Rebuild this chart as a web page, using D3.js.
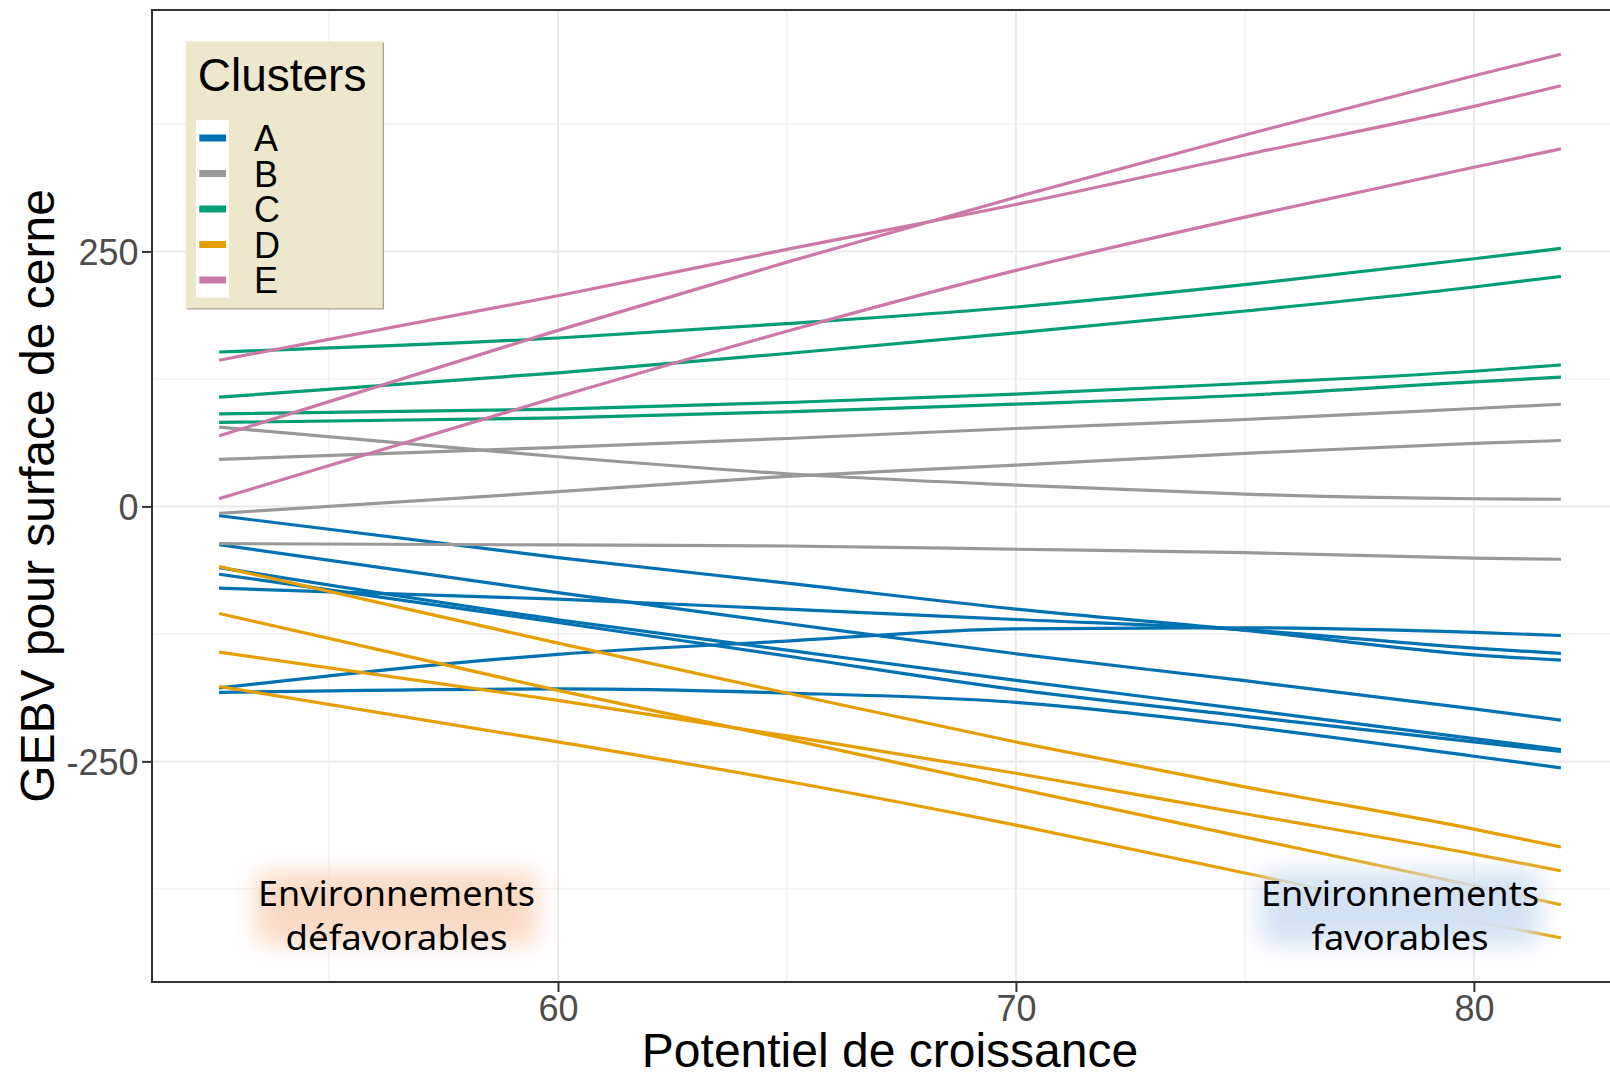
<!DOCTYPE html>
<html>
<head>
<meta charset="utf-8">
<script src="https://cdn.jsdelivr.net/npm/d3@7"></script>
<style>
  html, body { margin: 0; padding: 0; background: #ffffff; overflow: hidden; }
  svg { display: block; }
</style>
</head>
<body>
<svg id="chart" width="1610" height="1072"></svg>
<script>
// ---------------- DATA ----------------
const xPoints = [52.6, 60, 65, 70, 75, 80, 81.9];

const clusterNames = ["A", "B", "C", "D", "E"];
const clusterColors = ["#0072B2", "#999999", "#009E73", "#E69F00", "#CC79A7"];

const clusterA = [
  [-9.1, -50.2, -75.3, -100.7, -121.5, -145.5, -150.7],
  [-37.5, -84.5, -114.8, -144.5, -170.9, -198.6, -209.5],
  [-60, -111.1, -140.9, -170.6, -199, -227.7, -238.4],
  [-66.5, -113.8, -146.7, -179.7, -205.8, -230.9, -240.2],
  [-80.2, -90.9, -100.8, -110.9, -121, -139, -144.1],
  [-178, -145, -132, -120, -119, -123.5, -126.6],
  [-182.3, -179, -183, -192.1, -215.6, -245, -256.3]
];
const clusterB = [
  [77.7, 48.7, 32, 20.9, 12.1, 7.5, 7],
  [46.1, 57.8, 66.6, 76.4, 85.2, 96, 100.2],
  [-6.8, 14.4, 29.5, 40.5, 52, 61.8, 64.6],
  [-36.5, -37.8, -38.8, -42, -45.3, -50.8, -51.8]
];
const clusterC = [
  [151.4, 165.1, 179.2, 195.5, 217.4, 242.8, 253],
  [107.1, 130.9, 149.9, 170.1, 191.6, 215.1, 225.5],
  [90.8, 95.3, 101.9, 110, 120.5, 132.5, 138.7],
  [82.3, 86.8, 92.7, 100.2, 109, 122.1, 126.7]
];
const clusterD = [
  [-59, -134, -183, -231, -275, -316.4, -333.9],
  [-105, -180.4, -228, -276.4, -324.3, -371.9, -390.6],
  [-142.8, -190.2, -225, -261.6, -301.4, -340.9, -357.3],
  [-176.5, -230.9, -269.5, -312.5, -359.5, -406.5, -423]
];
const clusterE = [
  [143.3, 206.5, 252, 296, 344.6, 392.2, 412.4],
  [69.2, 172.6, 239.5, 303.2, 364.2, 422.3, 443.4],
  [7.6, 107.4, 171.7, 231.4, 283.6, 332.5, 350.5]
];

const xTicks = [60, 70, 80];
const xMinorTicks = [55, 65, 75, 85];
const yTicks = [-250, 0, 250];
const yMinorTicks = [-375, -125, 125, 375];
const xTitle = "Potentiel de croissance";
const yTitle = "GEBV pour surface de cerne";
const legendTitle = "Clusters";
const annotLeft = ["Environnements", "défavorables"];
const annotRight = ["Environnements", "favorables"];

// ---------------- LAYOUT ----------------
const panel = { left: 152, top: 10, bottom: 982 };
const allSeries = [clusterA, clusterB, clusterC, clusterD, clusterE];

// ggplot-like 5% expansion
const xExt = d3.extent(xPoints);
const xPad = (xExt[1] - xExt[0]) * 0.05;
const allY = allSeries.flat(2);
const yExt = d3.extent(allY);
const yPad = (yExt[1] - yExt[0]) * 0.05;

const xPanelWidth = 1476;
const x = d3.scaleLinear().domain([xExt[0] - xPad, xExt[1] + xPad]).range([panel.left, panel.left + xPanelWidth]);
const y = d3.scaleLinear().domain([yExt[0] - yPad, yExt[1] + yPad]).range([panel.bottom, panel.top]);

const svg = d3.select("#chart");
const defs = svg.append("defs");
const blur = defs.append("filter").attr("id", "glow").attr("x", "-30%").attr("y", "-60%").attr("width", "160%").attr("height", "220%");
blur.append("feGaussianBlur").attr("stdDeviation", 12);

svg.append("rect").attr("width", 1610).attr("height", 1072).attr("fill", "#ffffff");

const plot = svg.append("g");

// grid
plot.selectAll(".xminor").data(xMinorTicks).enter().append("line")
  .attr("x1", d => x(d)).attr("x2", d => x(d)).attr("y1", panel.top).attr("y2", panel.bottom)
  .attr("stroke", "#f0f0f0").attr("stroke-width", 1.3);
plot.selectAll(".yminor").data(yMinorTicks).enter().append("line")
  .attr("x1", panel.left).attr("x2", panel.left + xPanelWidth).attr("y1", d => y(d)).attr("y2", d => y(d))
  .attr("stroke", "#f0f0f0").attr("stroke-width", 1.3);
plot.selectAll(".xmajor").data(xTicks).enter().append("line")
  .attr("x1", d => x(d)).attr("x2", d => x(d)).attr("y1", panel.top).attr("y2", panel.bottom)
  .attr("stroke", "#ebebeb").attr("stroke-width", 2);
plot.selectAll(".ymajor").data(yTicks).enter().append("line")
  .attr("x1", panel.left).attr("x2", panel.left + xPanelWidth).attr("y1", d => y(d)).attr("y2", d => y(d))
  .attr("stroke", "#ebebeb").attr("stroke-width", 2);

// lines
const line = d3.line().x((d, i) => x(xPoints[i])).y(d => y(d)).curve(d3.curveMonotoneX);
allSeries.forEach((series, ci) => {
  plot.append("g").selectAll("path").data(series).enter().append("path")
    .attr("d", line)
    .attr("fill", "none")
    .attr("stroke", clusterColors[ci])
    .attr("stroke-width", 3.2)
    .attr("stroke-linecap", "butt");
});

// annotations glow
function annotation(lines, cx, color, widths) {
  const g = svg.append("g");
  g.append("rect")
    .attr("x", cx - 140).attr("y", 872).attr("width", 280).attr("height", 72)
    .attr("rx", 10)
    .attr("fill", color).attr("filter", "url(#glow)");
  g.selectAll("text").data(lines).enter().append("text")
    .attr("x", cx).attr("y", (d, i) => 905.7 + i * 44)
    .attr("text-anchor", "middle")
    .attr("font-family", "'Noto Sans', Lato, sans-serif")
    .attr("font-size", 34)
    .attr("textLength", (d, i) => widths[i])
    .attr("lengthAdjust", "spacingAndGlyphs")
    .attr("fill", "#000")
    .text(d => d);
}
annotation(annotLeft, 396.5, "#f9d9c3", [277, 222]);
annotation(annotRight, 1400, "#d3e2f3", [278, 177]);

// panel border
svg.append("rect")
  .attr("x", panel.left).attr("y", panel.top)
  .attr("width", xPanelWidth).attr("height", panel.bottom - panel.top)
  .attr("fill", "none").attr("stroke", "#333333").attr("stroke-width", 2);

// axes
const xAxis = d3.axisBottom(x).tickValues(xTicks).tickSize(10).tickPadding(4).tickFormat(d3.format("d"));
const gx = svg.append("g").attr("transform", `translate(0,${panel.bottom})`).call(xAxis);
gx.select(".domain").remove();
gx.selectAll("line").attr("stroke", "#333333").attr("stroke-width", 2);
gx.selectAll("text").attr("font-family", "'Liberation Sans', Arial, sans-serif")
  .attr("font-size", 36).attr("fill", "#4d4d4d").attr("dy", null).attr("y", 39);

const yAxis = d3.axisLeft(y).tickValues(yTicks).tickSize(10).tickPadding(4).tickFormat(d => String(d));
const gy = svg.append("g").attr("transform", `translate(${panel.left},0)`).call(yAxis);
gy.select(".domain").remove();
gy.selectAll("line").attr("stroke", "#333333").attr("stroke-width", 2);
gy.selectAll("text").attr("font-family", "'Liberation Sans', Arial, sans-serif")
  .attr("font-size", 36).attr("fill", "#4d4d4d").attr("dy", null).attr("x", -13.5).attr("y", 13);

// titles
svg.append("text")
  .attr("x", panel.left + xPanelWidth / 2).attr("y", 1067)
  .attr("text-anchor", "middle")
  .attr("font-family", "'Liberation Sans', Arial, sans-serif")
  .attr("font-size", 48).attr("fill", "#000")
  .text(xTitle);
svg.append("text")
  .attr("transform", `translate(53.5,${(panel.top + panel.bottom) / 2}) rotate(-90)`)
  .attr("text-anchor", "middle")
  .attr("font-family", "'Liberation Sans', Arial, sans-serif")
  .attr("font-size", 48).attr("fill", "#000")
  .text(yTitle);

// legend
const lg = svg.append("g");
lg.append("rect").attr("x", 187).attr("y", 42.5).attr("width", 197).attr("height", 267).attr("fill", "#a8a495");
lg.append("rect").attr("x", 185.7).attr("y", 41.3).attr("width", 197).attr("height", 267).attr("fill", "#ede7cd");
lg.append("text").attr("x", 197.7).attr("y", 90.7)
  .attr("font-family", "'Liberation Sans', Arial, sans-serif")
  .attr("font-size", 46).attr("fill", "#000").text(legendTitle);
lg.append("rect").attr("x", 196).attr("y", 120).attr("width", 33).attr("height", 177.7).attr("fill", "#ffffff");
const keyY = d3.scalePoint().domain(clusterNames).range([138, 280]);
clusterNames.forEach((name, i) => {
  lg.append("line")
    .attr("x1", 199.3).attr("x2", 226)
    .attr("y1", keyY(name)).attr("y2", keyY(name))
    .attr("stroke", clusterColors[i]).attr("stroke-width", 7);
  lg.append("text")
    .attr("x", 254).attr("y", keyY(name) + 13)
    .attr("font-family", "'Liberation Sans', Arial, sans-serif")
    .attr("font-size", 36).attr("fill", "#000").text(name);
});
</script>
</body>
</html>
